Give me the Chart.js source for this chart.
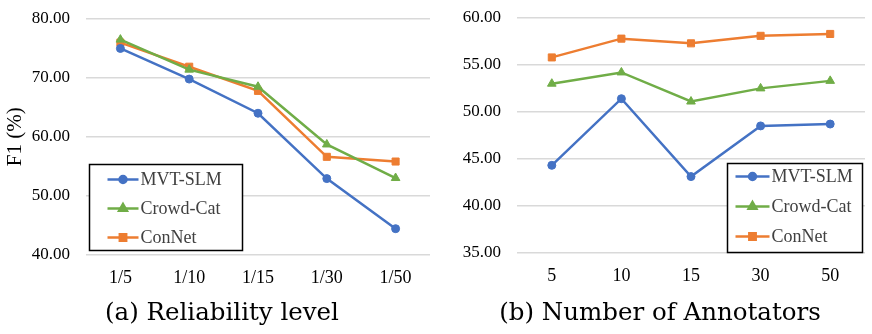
<!DOCTYPE html>
<html>
<head>
<meta charset="utf-8">
<script src="https://cdn.jsdelivr.net/npm/chart.js@4/dist/chart.umd.min.js"></script>
<style>
  body { margin: 0; background: #fff; }
  .row { display: flex; width: 872px; height: 334px; }
  canvas { display: block; }
</style>
</head>
<body>
<div class="row">
  <canvas id="reliability-chart" width="436" height="334"></canvas>
  <canvas id="annotators-chart" width="436" height="334"></canvas>
</div>
<script>
// categories
const reliabilityLevels = ['1/5', '1/10', '1/15', '1/30', '1/50'];
const annotatorCounts = ['5', '10', '15', '30', '50'];

// (a) F1 by reliability level
const relMvtSlm = [75.0, 69.8, 64.0, 52.9, 44.4];
const relCrowdCat = [76.5, 71.4, 68.5, 58.7, 53.0];
const relConNet = [76.0, 71.9, 67.8, 56.6, 55.8];

// (b) F1 by number of annotators
const annMvtSlm = [44.3, 51.4, 43.1, 48.5, 48.7];
const annCrowdCat = [53.0, 54.2, 51.1, 52.5, 53.3];
const annConNet = [55.8, 57.8, 57.3, 58.1, 58.3];

const seriesNames = ['MVT-SLM', 'Crowd-Cat', 'ConNet'];

const BLUE = '#4472C4';
const GREEN = '#70AD47';
const ORANGE = '#ED7D31';
const SERIF = "'Liberation Serif', 'DejaVu Serif', serif";
const TITLE_FONT = "'DejaVu Serif', serif";

const seriesStyle = [
    { color: BLUE, pointStyle: 'circle', radius: 4 },
    { color: GREEN, pointStyle: 'triangle', radius: 5 },
    { color: ORANGE, pointStyle: 'rect', radius: 5 }
];

function makeDatasets(values) {
    return values.map((data, i) => ({
        label: seriesNames[i],
        data: data,
        borderColor: seriesStyle[i].color,
        backgroundColor: seriesStyle[i].color,
        borderWidth: 2.5,
        pointStyle: seriesStyle[i].pointStyle,
        pointRadius: seriesStyle[i].radius,
        pointBorderWidth: 1,
        tension: 0
    }));
}

// legend drawn inside the plot area with a black frame
const boxLegend = {
    id: 'boxLegend',
    afterDraw(chart, args, opts) {
        const ctx = chart.ctx;
        ctx.save();
        ctx.fillStyle = '#fff';
        ctx.fillRect(opts.x, opts.y, opts.w, opts.h);
        ctx.lineWidth = 1.5;
        ctx.strokeStyle = '#000';
        ctx.strokeRect(opts.x, opts.y, opts.w, opts.h);
        chart.data.datasets.forEach((ds, i) => {
            const y = opts.y + opts.first + i * opts.step;
            const x0 = opts.x + opts.lineStart;
            const x1 = x0 + opts.lineLen;
            ctx.strokeStyle = ds.borderColor;
            ctx.fillStyle = ds.backgroundColor;
            ctx.lineWidth = 2.5;
            ctx.beginPath();
            ctx.moveTo(x0, y);
            ctx.lineTo(x1, y);
            ctx.stroke();
            Chart.helpers.drawPoint(ctx, {
                pointStyle: ds.pointStyle, radius: ds.pointRadius - 0.5, rotation: 0, borderWidth: 1
            }, (x0 + x1) / 2, y);
            ctx.fillStyle = '#404040';
            ctx.font = '18px ' + SERIF;
            ctx.textBaseline = 'middle';
            ctx.textAlign = 'left';
            ctx.fillText(ds.label, x1 + 2, y + 1);
        });
        ctx.restore();
    }
};

function buildChart(canvasId, labels, values, opt) {
    return new Chart(document.getElementById(canvasId), {
        type: 'line',
        data: { labels: labels, datasets: makeDatasets(values) },
        plugins: [boxLegend],
        options: {
            responsive: false,
            animation: false,
            layout: { padding: { top: opt.padTop, right: opt.padRight, bottom: 6, left: opt.padLeft } },
            plugins: {
                legend: { display: false },
                tooltip: { enabled: false },
                title: {
                    display: true,
                    position: 'bottom',
                    text: opt.title,
                    color: '#000',
                    font: { family: TITLE_FONT, size: 24.5, weight: 'normal' },
                    padding: { top: 0, bottom: 0 },
                    align: 'center'
                },
                boxLegend: opt.legend
            },
            scales: {
                x: {
                    offset: true,
                    grid: { display: false, drawTicks: false },
                    border: { display: false },
                    ticks: { color: '#000', padding: 13, font: { family: SERIF, size: 18 } },
                    afterFit: (s) => { s.height = opt.xHeight; }
                },
                y: {
                    min: opt.min,
                    max: opt.max,
                    grid: { color: '#D9D9D9', lineWidth: 1.5, drawTicks: false },
                    border: { display: false },
                    ticks: {
                        stepSize: opt.step,
                        color: '#000',
                        padding: 16,
                        font: { family: SERIF, size: 17 },
                        callback: (v) => v.toFixed(2)
                    },
                    title: {
                        display: !!opt.yTitle,
                        text: opt.yTitle || '',
                        color: '#000',
                        font: { family: SERIF, size: 21, lineHeight: 0.6 },
                        padding: { top: 0, bottom: 0 }
                    },
                    afterFit: (s) => {
                        s.width = opt.yWidth;
                        s.paddingTop = 8;
                        s.paddingBottom = 8;
                    }
                }
            }
        }
    });
}

buildChart('reliability-chart', reliabilityLevels, [relMvtSlm, relCrowdCat, relConNet], {
    title: '(a) Reliability level',
    yTitle: 'F1 (%)',
    min: 40, max: 80, step: 10,
    yWidth: 77, padLeft: 9, padRight: 1, padTop: 19, xHeight: 44,
    legend: { x: 89.5, y: 164.5, w: 153, h: 86, first: 15, step: 29, lineStart: 18, lineLen: 31 }
});

buildChart('annotators-chart', annotatorCounts, [annMvtSlm, annCrowdCat, annConNet], {
    title: '(b) Number of Annotators',
    min: 35, max: 60, step: 5,
    yWidth: 62, padLeft: 19, padRight: 7, padTop: 18, xHeight: 46,
    legend: { x: 291.5, y: 163.5, w: 135, h: 89, first: 13, step: 30, lineStart: 8, lineLen: 34 }
});
</script>
</body>
</html>
